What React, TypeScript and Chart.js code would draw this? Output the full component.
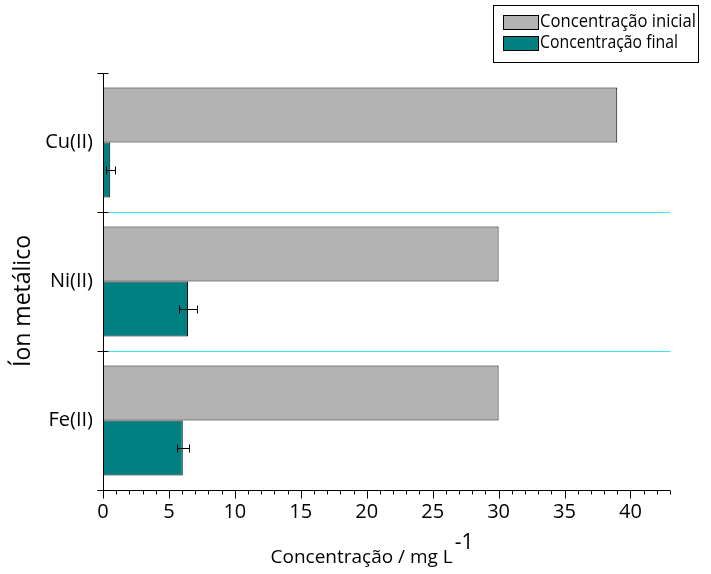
import React, { useEffect, useRef } from 'react';
import { Chart, registerables } from 'chart.js';

Chart.register(...registerables);

const categories = ['Cu(II)', 'Ni(II)', 'Fe(II)'];
const initialLabel = 'Concentração inicial';
const finalLabel = 'Concentração final';
const initialValues = [39, 30, 30];
const finalValues = [0.55, 6.45, 6.05];
const finalErrors = [0.35, 0.68, 0.45];
const xMin = 0;
const xMax = 43;
const xTitle = 'Concentração / mg L';
const xTitleSup = '-1';
const yTitle = 'Íon metálico';

const FONT = '"Open Sans", "DejaVu Sans", sans-serif';
const GRAY = '#b3b3b3';
const TEAL = '#008080';
const CYAN = '#30e8f8';

const decorPlugin = {
  id: 'decor',
  beforeDatasetsDraw(chart: any) {
    const ctx = chart.ctx;
    const ys = chart.scales.y;
    const area = chart.chartArea;
    const step = ys.getPixelForValue(1) - ys.getPixelForValue(0);
    ctx.save();
    ctx.fillStyle = CYAN;
    for (let i = 1; i < categories.length; i++) {
      const yy = Math.round(ys.getPixelForValue(i) - step / 2);
      const x0 = Math.round(area.left) + 6;
      ctx.fillRect(x0, yy, Math.round(area.right) - x0, 1);
    }
    ctx.restore();
  },
  afterDatasetsDraw(chart: any) {
    const ctx = chart.ctx;
    const xs = chart.scales.x;
    ctx.save();
    const meta = chart.getDatasetMeta(1);
    ctx.strokeStyle = '#000';
    ctx.lineWidth = 1;
    meta.data.forEach((bar: any, i: number) => {
      const v = finalValues[i];
      const e = finalErrors[i];
      const x1 = Math.round(xs.getPixelForValue(v - e)) + 0.5;
      const x2 = Math.round(xs.getPixelForValue(v + e)) + 0.5;
      const y = Math.round(bar.y) + 0.5;
      ctx.beginPath();
      ctx.moveTo(x1, y); ctx.lineTo(x2, y);
      ctx.moveTo(x1, y - 4); ctx.lineTo(x1, y + 4);
      ctx.moveTo(x2, y - 4); ctx.lineTo(x2, y + 4);
      ctx.stroke();
    });
    ctx.restore();
  },
  afterDraw(chart: any) {
    const ctx = chart.ctx;
    const xs = chart.scales.x;
    const ys = chart.scales.y;
    const area = chart.chartArea;
    ctx.save();
    ctx.strokeStyle = '#000';
    ctx.lineWidth = 1;
    const ax = Math.round(area.left) + 0.5;
    const ay = Math.round(area.bottom) + 0.5;
    ctx.beginPath();
    ctx.moveTo(ax, area.top); ctx.lineTo(ax, ay);
    ctx.moveTo(ax - 6, ay); ctx.lineTo(area.right, ay);
    ctx.stroke();
    const n = categories.length;
    const step = ys.getPixelForValue(1) - ys.getPixelForValue(0);
    for (let i = 0; i <= n; i++) {
      const yy = Math.round(ys.getPixelForValue(0) - step / 2 + i * step) + 0.5;
      ctx.beginPath();
      ctx.moveTo(ax - 6, yy); ctx.lineTo(ax + 5, yy);
      ctx.stroke();
    }
    for (let v = xMin; v <= xMax; v++) {
      const xx = Math.round(xs.getPixelForValue(v)) + 0.5;
      const len = v % 5 === 0 ? 8 : 4;
      ctx.beginPath();
      ctx.moveTo(xx, ay); ctx.lineTo(xx, ay + len);
      ctx.stroke();
    }
    // x title with superscript
    ctx.fillStyle = '#000';
    ctx.textBaseline = 'alphabetic';
    ctx.textAlign = 'left';
    ctx.font = `19px ${FONT}`;
    const mainW = ctx.measureText(xTitle).width;
    ctx.font = `21px ${FONT}`;
    const supW = ctx.measureText(xTitleSup).width;
    const cx = 371;
    const startX = cx - (mainW + supW) / 2;
    ctx.font = `19px ${FONT}`;
    ctx.fillText(xTitle, startX, 563);
    ctx.font = `21px ${FONT}`;
    ctx.fillText(xTitleSup, startX + mainW + 2, 549);
    // y title
    ctx.save();
    ctx.translate(30, 301);
    ctx.rotate(-Math.PI / 2);
    ctx.textAlign = 'center';
    ctx.font = `23px ${FONT}`;
    ctx.fillText(yTitle, 0, 0);
    ctx.restore();
    // legend
    const lx = 493, ly = 5, lw = 205, lh = 57;
    ctx.fillStyle = '#fff';
    ctx.fillRect(lx, ly, lw, lh);
    ctx.strokeRect(lx + 0.5, ly + 0.5, lw, lh);
    const entries = [
      { label: initialLabel, color: GRAY, y: 15, maxW: 156 },
      { label: finalLabel, color: TEAL, y: 36, maxW: 138 },
    ];
    entries.forEach((en) => {
      ctx.fillStyle = en.color;
      ctx.fillRect(503, en.y, 35, 14);
      ctx.strokeRect(503.5, en.y + 0.5, 35, 14);
      ctx.fillStyle = '#000';
      ctx.font = `19px ${FONT}`;
      ctx.textAlign = 'left';
      ctx.textBaseline = 'middle';
      const w = ctx.measureText(en.label).width;
      ctx.fillText(en.label, 540, en.y + 7, Math.min(w, en.maxW));
    });
    ctx.restore();
  },
};

export default function App() {
  const ref = useRef<HTMLCanvasElement | null>(null);
  useEffect(() => {
    if (!ref.current) return;
    const chart = new Chart(ref.current, {
      type: 'bar',
      data: {
        labels: categories,
        datasets: [
          {
            label: initialLabel,
            data: initialValues,
            backgroundColor: GRAY,
            borderColor: '#000',
            borderWidth: 1,
            borderSkipped: false,
            categoryPercentage: 0.79,
            barPercentage: 1,
          },
          {
            label: finalLabel,
            data: finalValues,
            backgroundColor: TEAL,
            borderColor: '#000',
            borderWidth: 1,
            borderSkipped: false,
            categoryPercentage: 0.79,
            barPercentage: 1,
          },
        ],
      },
      options: {
        indexAxis: 'y',
        animation: false,
        responsive: false,
        devicePixelRatio: 1,
        layout: { padding: { left: 8, top: 73, right: 41, bottom: 0 } },
        plugins: { legend: { display: false }, tooltip: { enabled: false } },
        scales: {
          x: {
            type: 'linear',
            min: xMin,
            max: xMax,
            border: { display: false },
            grid: { display: false, drawTicks: false },
            ticks: {
              stepSize: 1,
              autoSkip: false,
              maxRotation: 0,
              padding: 10,
              color: '#000',
              font: { family: FONT, size: 20 },
              callback: (v: any) => (Number(v) % 5 === 0 ? String(v) : ''),
            },
            afterFit: (s: any) => { s.height = 84; },
          },
          y: {
            type: 'category',
            border: { display: false },
            grid: { display: false, drawTicks: false },
            ticks: {
              padding: 10,
              color: '#000',
              font: { family: FONT, size: 20 },
            },
            afterFit: (s: any) => { s.width = 95; },
          },
        },
      },
      plugins: [decorPlugin],
    });
    return () => chart.destroy();
  }, []);
  return (
    <div style={{ position: 'fixed', left: 0, top: 0, width: 711, height: 574, background: '#fff' }}>
      <canvas ref={ref} width={711} height={574} style={{ width: 711, height: 574, display: 'block' }} />
    </div>
  );
}
